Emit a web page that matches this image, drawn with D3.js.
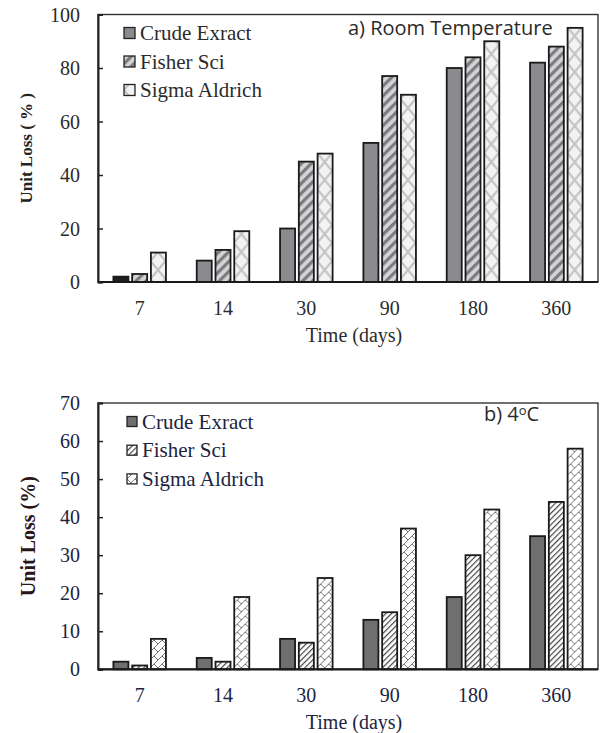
<!DOCTYPE html>
<head>
    <script src="https://d3js.org/d3.v7.min.js"></script>
    <style>
      body { margin: 0; background: #fff; }
    </style>
</head>

<body>
    <div id="chart"></div>
</body>

<script>

  // categories and series
  const days = ["7", "14", "30", "90", "180", "360"];
  const seriesNames = ["Crude Exract", "Fisher Sci", "Sigma Aldrich"];

  // a) room temperature, unit loss %
  const roomCrude  = [2, 8, 20, 52, 80, 82];
  const roomFisher = [3, 12, 45, 77, 84, 88];
  const roomSigma  = [11, 19, 48, 70, 90, 95];
  const roomTicks  = [0, 20, 40, 60, 80, 100];

  // b) 4 C, unit loss %
  const coldCrude  = [2, 3, 8, 13, 19, 35];
  const coldFisher = [1, 2, 7, 15, 30, 44];
  const coldSigma  = [8, 19, 24, 37, 42, 58];
  const coldTicks  = [0, 10, 20, 30, 40, 50, 60, 70];

  const W = 604, H = 733;
  const svg = d3.select("#chart").append("svg")
    .attr("width", W)
    .attr("height", H);

  const defs = svg.append("defs");

  // top chart patterns
  const pA = defs.append("pattern").attr("id", "stripeA")
    .attr("patternUnits", "userSpaceOnUse").attr("width", 7).attr("height", 7)
    .attr("patternTransform", "rotate(45)");
  pA.append("rect").attr("width", 7).attr("height", 7).attr("fill", "#d4d4d6");
  pA.append("rect").attr("width", 3.2).attr("height", 7).attr("fill", "#7c7c80");

  const pB = defs.append("pattern").attr("id", "trellisA")
    .attr("patternUnits", "userSpaceOnUse").attr("width", 15).attr("height", 18);
  pB.append("rect").attr("width", 15).attr("height", 18).attr("fill", "#f3f3f3");
  pB.append("path").attr("d", "M0,0 L15,18 M15,0 L0,18")
    .attr("stroke", "#c4c4c6").attr("stroke-width", 2.2).attr("fill", "none");

  // bottom chart patterns
  const pC = defs.append("pattern").attr("id", "stripeB")
    .attr("patternUnits", "userSpaceOnUse").attr("width", 4).attr("height", 4)
    .attr("patternTransform", "rotate(45)");
  pC.append("rect").attr("width", 4).attr("height", 4).attr("fill", "#fff");
  pC.append("rect").attr("width", 1.2).attr("height", 4).attr("fill", "#444");

  const pD = defs.append("pattern").attr("id", "crossB")
    .attr("patternUnits", "userSpaceOnUse").attr("width", 8).attr("height", 8);
  pD.append("rect").attr("width", 8).attr("height", 8).attr("fill", "#fff");
  pD.append("path").attr("d", "M0,8 L8,0 M0,0 L4,4")
    .attr("stroke", "#666").attr("stroke-width", 0.9).attr("fill", "none");

  function drawPanel(opt) {
    const g = svg.append("g");

    const x0 = d3.scaleBand().domain(days).range([opt.left, opt.right]);
    const x1 = d3.scaleBand().domain(seriesNames)
      .range([0, x0.bandwidth()])
      .paddingInner(0.2).paddingOuter(0.82);
    const y = d3.scaleLinear().domain([0, opt.max]).range([opt.bottom, opt.top]);

    const rows = days.map((d, i) => ({
      day: d,
      vals: opt.series.map((s, j) => ({ name: seriesNames[j], v: s[i], k: j, i: i }))
    }));

    // bars
    g.selectAll("g.grp")
      .data(rows)
      .join("g")
      .attr("transform", d => `translate(${x0(d.day)},0)`)
      .selectAll("rect")
      .data(d => d.vals)
      .join("rect")
      .attr("x", d => x1(d.name))
      .attr("y", d => y(d.v))
      .attr("width", x1.bandwidth())
      .attr("height", d => y(0) - y(d.v))
      .attr("fill", d => (opt.firstFill && d.k == 0 && d.i == 0) ? opt.firstFill : opt.fills[d.k])
      .attr("stroke", "#1a1a1a")
      .attr("stroke-width", 1.8);

    // frame
    g.append("rect")
      .attr("x", opt.left).attr("y", opt.top)
      .attr("width", opt.right - opt.left).attr("height", opt.bottom - opt.top)
      .attr("fill", "none").attr("stroke", "#333").attr("stroke-width", 1.4);

    // y axis
    const ya = g.append("g")
      .attr("transform", `translate(${opt.left},0)`)
      .call(d3.axisRight(y).tickValues(opt.ticks).tickSize(5).tickFormat(""));
    ya.select(".domain").attr("stroke", "#222").attr("stroke-width", 2);
    ya.selectAll(".tick line").attr("stroke", "#222").attr("stroke-width", 1.5);

    g.selectAll("text.ytick")
      .data(opt.ticks)
      .join("text")
      .attr("x", 80)
      .attr("y", d => y(d) + 7)
      .attr("text-anchor", "end")
      .style("font-family", "Liberation Serif")
      .style("font-size", "20px")
      .style("fill", opt.tickColor)
      .text(d => d);

    // x axis line
    g.append("line")
      .attr("x1", opt.left).attr("x2", opt.right)
      .attr("y1", opt.bottom).attr("y2", opt.bottom)
      .attr("stroke", "#1a1a1a").attr("stroke-width", 2.2);

    g.selectAll("text.xtick")
      .data(days)
      .join("text")
      .attr("x", d => x0(d) + x0.bandwidth() / 2)
      .attr("y", opt.bottom + 33)
      .attr("text-anchor", "middle")
      .style("font-family", "Liberation Serif")
      .style("font-size", "20px")
      .style("fill", opt.tickColor)
      .text(d => d);

    // axis titles
    g.append("text")
      .attr("x", (opt.left + opt.right) / 2 + 6)
      .attr("y", opt.bottom + 60)
      .attr("text-anchor", "middle")
      .style("font-family", "Liberation Serif")
      .style("font-size", "20px")
      .style("fill", opt.tickColor)
      .text("Time (days)");

    g.append("text")
      .attr("transform", `translate(${opt.ytX},${(opt.top + opt.bottom) / 2}) rotate(-90)`)
      .attr("text-anchor", "middle")
      .style("font-family", "Liberation Serif")
      .style("font-weight", "bold")
      .style("font-size", opt.ytSize + "px")
      .style("fill", opt.ytColor)
      .text(opt.yTitle);

    // legend
    const lg = g.selectAll("g.leg")
      .data(seriesNames)
      .join("g")
      .attr("transform", (d, i) => `translate(${opt.legX},${opt.legY + i * opt.legStep})`);
    lg.append("rect")
      .attr("x", 0).attr("y", -opt.sw / 2)
      .attr("width", opt.sw).attr("height", opt.sw)
      .attr("fill", (d, i) => opt.fills[i])
      .attr("stroke", "#222").attr("stroke-width", 1.3);
    lg.append("text")
      .attr("x", opt.sw + 5)
      .attr("y", 7)
      .style("font-family", "Liberation Serif")
      .style("font-size", "21px")
      .style("fill", opt.tickColor)
      .text(d => d);

    // panel title
    const t = g.append("text")
      .attr("x", opt.titleX).attr("y", opt.titleY)
      .style("font-family", "Open Sans")
      .style("font-size", "20px")
      .style("fill", "#2a2a2a");
    t.append("tspan").text(opt.title[0]);
    if (opt.title.length > 1) {
      t.append("tspan").attr("dy", -6).style("font-size", "13px").text(opt.title[1]);
      t.append("tspan").attr("dy", 6).text(opt.title[2]);
    }
  }

  drawPanel({
    left: 98, right: 598, top: 14.5, bottom: 282,
    max: 100, ticks: roomTicks,
    series: [roomCrude, roomFisher, roomSigma],
    fills: ["#8b8b8f", "url(#stripeA)", "url(#trellisA)"],
    firstFill: "#1e1e1e",
    tickColor: "#2b2b2b",
    yTitle: "Unit Loss ( % )", ytX: 32, ytSize: 17, ytColor: "#222",
    legX: 124, legY: 33, legStep: 28.5, sw: 11,
    title: ["a) Room Temperature"], titleX: 348, titleY: 35
  });

  drawPanel({
    left: 98, right: 598, top: 403, bottom: 669.3,
    max: 70, ticks: coldTicks,
    series: [coldCrude, coldFisher, coldSigma],
    fills: ["#6f6f6f", "url(#stripeB)", "url(#crossB)"],
    tickColor: "#1c2442",
    yTitle: "Unit Loss (%)", ytX: 35, ytSize: 20, ytColor: "#2a1518",
    legX: 127, legY: 421.5, legStep: 28.7, sw: 10,
    title: ["b) 4", "o", "C"], titleX: 484, titleY: 421
  });

</script>
